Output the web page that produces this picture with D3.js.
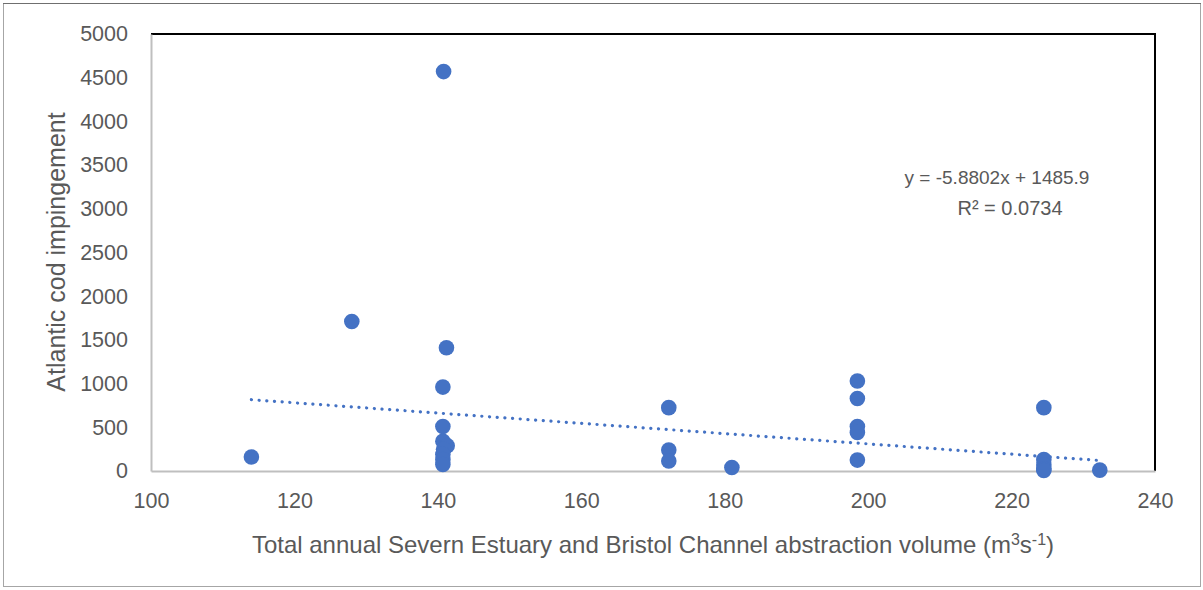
<!DOCTYPE html>
<html>
<head>
<meta charset="utf-8">
<script src="https://cdn.jsdelivr.net/npm/d3@7"></script>
<style>
  body { margin: 0; background: #fff; }
  svg text { font-family: "Liberation Sans", Arial, sans-serif; fill: #595959; }
</style>
</head>
<body>
<svg id="chart" width="1203" height="590"></svg>
<script>
// abstraction volume (m3/s) and cod impingement counts
const volume = [114, 128, 140.8, 141.2, 140.7, 140.7, 140.7, 141.3, 140.8, 140.7, 140.7, 140.7,
  172.2, 172.2, 172.2, 181, 198.5, 198.5, 198.5, 198.5, 198.5,
  224.5, 224.5, 224.5, 224.5, 224.5, 232.3];
const impingement = [160, 1710, 4570, 1410, 960, 510, 340, 290, 250, 190, 130, 75,
  725, 240, 115, 40, 1030, 830, 510, 440, 125,
  725, 130, 70, 25, 5, 10];

const xTicks = [100, 120, 140, 160, 180, 200, 220, 240];
const yTicks = [0, 500, 1000, 1500, 2000, 2500, 3000, 3500, 4000, 4500, 5000];

// trendline from the reference label
const slope = -5.8802;
const intercept = 1485.9;
const eqLabel = "y = -5.8802x + 1485.9";
const r2Label = "R² = 0.0734";

const svg = d3.select("#chart");

// outer frame
svg.append("rect")
  .attr("x", 3.5).attr("y", 3.5)
  .attr("width", 1197).attr("height", 583)
  .attr("fill", "none")
  .attr("stroke", "#a6a6a6");
svg.append("line")
  .attr("x1", 3).attr("x2", 1201).attr("y1", 3.5).attr("y2", 3.5)
  .attr("stroke", "#6f6f6f");

const x = d3.scaleLinear().domain([100, 240]).range([151, 1155]);
const y = d3.scaleLinear().domain([0, 5000]).range([471, 34]);

// plot border: black top and right
svg.append("path")
  .attr("d", `M${x(100)},${y(5000)}H${x(240)}V${y(0)}`)
  .attr("fill", "none")
  .attr("stroke", "#000")
  .attr("stroke-width", 2);

// axes
const yAxis = svg.append("g")
  .attr("transform", `translate(${x(100)},0)`)
  .call(d3.axisLeft(y).tickValues(yTicks).tickSize(0).tickPadding(23).tickFormat(d3.format("d")));
yAxis.select(".domain").attr("stroke", "#bfbfbf").attr("stroke-width", 2);
yAxis.selectAll("text").style("font-size", "21.5px").attr("fill", "#595959");

const xAxis = svg.append("g")
  .attr("transform", `translate(0,${y(0)})`)
  .call(d3.axisBottom(x).tickValues(xTicks).tickSize(0).tickPadding(22).tickFormat(d3.format("d")));
xAxis.select(".domain").attr("stroke", "#bfbfbf").attr("stroke-width", 2);
xAxis.selectAll("text").style("font-size", "21.5px").attr("fill", "#595959");

// trendline, dotted, across the data range
const [xMin, xMax] = d3.extent(volume);
svg.append("line")
  .attr("x1", x(xMin)).attr("y1", y(slope * xMin + intercept))
  .attr("x2", x(xMax)).attr("y2", y(slope * xMax + intercept))
  .attr("stroke", "#4472c4")
  .attr("stroke-width", 3.2)
  .attr("stroke-linecap", "round")
  .attr("stroke-dasharray", "0.1,7.6");

// points
svg.append("g")
  .selectAll("circle")
  .data(volume.map((v, i) => ({ v, n: impingement[i] })))
  .join("circle")
  .attr("cx", (d) => x(d.v))
  .attr("cy", (d) => y(d.n))
  .attr("r", 7.8)
  .attr("fill", "#4472c4");

// equation label
svg.append("text")
  .attr("x", 997).attr("y", 184)
  .attr("text-anchor", "middle")
  .style("font-size", "19px")
  .text(eqLabel);
svg.append("text")
  .attr("x", 1010).attr("y", 215)
  .attr("text-anchor", "middle")
  .style("font-size", "20px")
  .text(r2Label);

// axis titles
svg.append("text")
  .attr("transform", "translate(65,252) rotate(-90)")
  .attr("text-anchor", "middle")
  .style("font-size", "25px")
  .text("Atlantic cod impingement");

const xt = svg.append("text")
  .attr("x", 653).attr("y", 553)
  .attr("text-anchor", "middle")
  .style("font-size", "24px");
xt.append("tspan").text("Total annual Severn Estuary and Bristol Channel abstraction volume (m");
xt.append("tspan").attr("dy", -8).style("font-size", "16px").text("3");
xt.append("tspan").attr("dy", 8).text("s");
xt.append("tspan").attr("dy", -8).style("font-size", "16px").text("-1");
xt.append("tspan").attr("dy", 8).text(")");
</script>
</body>
</html>
